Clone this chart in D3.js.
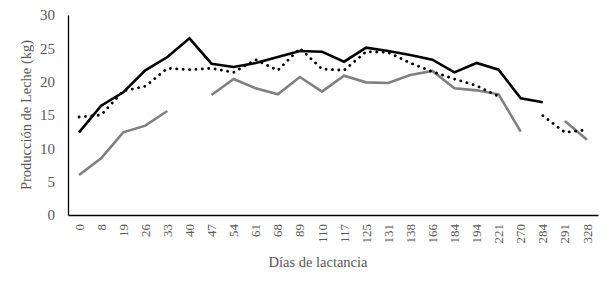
<!DOCTYPE html>
<html><head><meta charset="utf-8">
<script src="https://cdn.jsdelivr.net/npm/d3@7/dist/d3.min.js"></script>
<style>body{margin:0;background:#fff}svg{display:block}text{font-family:"Liberation Serif","Times New Roman",serif;fill:#595959}</style>
</head><body><svg id="c" width="613" height="288"></svg>
<script>
const categories = [0,8,19,26,33,40,47,54,61,68,89,110,117,125,131,138,166,184,194,221,270,284,291,328];
const seriesBlack = [12.4,16.4,18.4,21.7,23.7,26.5,22.7,22.2,22.8,23.7,24.6,24.5,23.0,25.1,24.6,24.0,23.3,21.4,22.8,21.8,17.5,16.9,null,null];
const seriesDotted = [14.7,15.0,18.6,19.3,22.0,21.8,22.0,21.4,23.3,21.7,25.0,21.9,21.7,24.5,24.4,22.8,21.5,20.4,19.4,17.8,null,14.9,12.4,12.8];
const seriesGray = [6.0,8.5,12.4,13.4,15.6,null,18.0,20.4,19.0,18.1,20.7,18.5,20.9,19.9,19.8,21.0,21.6,19.0,18.7,18.1,12.5,null,14.1,11.3];
const yTicks = [0,5,10,15,20,25,30];

(function(){
const svg = d3.select("#c");
const mLeft = 68, mRight = 598, mTop = 15, mBottom = 215;
const x = d3.scaleBand().domain(categories).range([mLeft, mRight]);
const y = d3.scaleLinear().domain([0,30]).range([mBottom, mTop]);
const cx = d => x(d) + x.bandwidth()/2;

const ya = svg.append("g").attr("transform",`translate(${mLeft},0)`)
  .call(d3.axisLeft(y).tickValues(yTicks).tickSize(0).tickPadding(13));
ya.select(".domain").attr("stroke","#000").attr("stroke-width",1.3);
ya.selectAll("text").style("font-size","15px").style("fill","#595959").style("font-family","Liberation Serif");

const xa = svg.append("g").attr("transform",`translate(0,${mBottom})`)
  .call(d3.axisBottom(x).tickSize(0).tickPadding(0));
xa.select(".domain").attr("stroke","#000").attr("stroke-width",1.3);
xa.selectAll("text").style("font-size","13px").style("fill","#595959").style("font-family","Liberation Serif")
  .attr("transform","rotate(-90)").attr("text-anchor","end").attr("dy","0.35em").attr("x",-9).attr("y",0);

const line = d3.line().defined(d=>d.v!=null).x(d=>cx(d.c)).y(d=>y(d.v));
const mk = arr => categories.map((c,i)=>({c, v:arr[i]}));

svg.append("path").datum(mk(seriesGray)).attr("d",line).attr("fill","none")
  .attr("stroke","#808080").attr("stroke-width",2.6);
svg.append("path").datum(mk(seriesDotted)).attr("d",line).attr("fill","none")
  .attr("stroke","#000").attr("stroke-width",2.8).attr("stroke-linecap","round").attr("stroke-dasharray","0.1,6.3");
svg.append("path").datum(mk(seriesBlack)).attr("d",line).attr("fill","none")
  .attr("stroke","#000").attr("stroke-width",2.6);

svg.append("text").attr("x",318).attr("y",267).attr("text-anchor","middle").style("font-size","14.5px").text("Días de lactancia");
svg.append("text").attr("transform","translate(31,115) rotate(-90)").attr("text-anchor","middle").style("font-size","14.5px").text("Producción de Leche (kg)");
})();
</script></body></html>
